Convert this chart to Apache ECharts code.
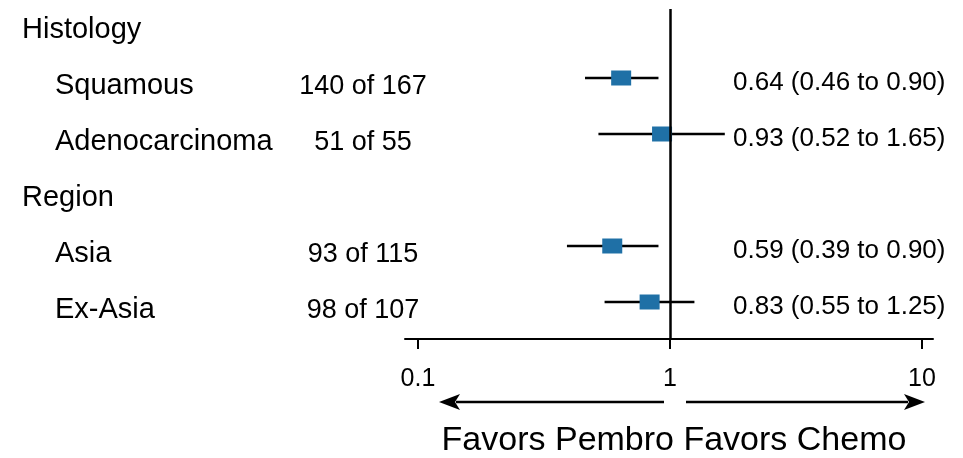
<!DOCTYPE html>
<html>
<head>
<meta charset="utf-8">
<script src="https://cdn.jsdelivr.net/npm/echarts@6/dist/echarts.min.js"></script>
<style>html,body{margin:0;padding:0;background:#fff}#c{width:963px;height:458px}</style>
</head>
<body>
<div id="c"></div>
<script>
// ---- data ----
const categories = ['Histology', 'Squamous', 'Adenocarcinoma', 'Region', 'Asia', 'Ex-Asia'];
const isHeader = [true, false, false, true, false, false];
const events = ['', '140 of 167', '51 of 55', '', '93 of 115', '98 of 107'];
const hr = [null, 0.64, 0.93, null, 0.59, 0.83];
const lower = [null, 0.46, 0.52, null, 0.39, 0.55];
const upper = [null, 0.90, 1.65, null, 0.90, 1.25];
const tickValues = [0.1, 1, 10];
const favorLeft = 'Favors Pembro';
const favorRight = 'Favors Chemo';

// ---- chart ----
const F = '"Liberation Sans", Arial, Helvetica, sans-serif';
const chart = echarts.init(document.getElementById('c'), null, {renderer: 'canvas'});

function fmt(v) { return v.toFixed(2); }

function renderRow(params, api) {
  const i = params.dataIndex;
  const y = api.coord([1, i])[1];
  const children = [];
  children.push({
    type: 'text',
    style: {text: categories[i], x: isHeader[i] ? 22 : 55, y: y + 8,
      font: '29px ' + F, fill: '#000', textAlign: 'left', textVerticalAlign: 'middle'}
  });
  if (!isHeader[i]) {
    children.push({
      type: 'text',
      style: {text: events[i], x: 363, y: y + 9,
        font: '27px ' + F, fill: '#000', textAlign: 'center', textVerticalAlign: 'middle'}
    });
    children.push({
      type: 'text',
      style: {text: fmt(hr[i]) + ' (' + fmt(lower[i]) + ' to ' + fmt(upper[i]) + ')', x: 733, y: y + 4.5,
        font: '26px ' + F, fill: '#000', textAlign: 'left', textVerticalAlign: 'middle'}
    });
    const pl = api.coord([lower[i], i]);
    const ph = api.coord([upper[i], i]);
    const pm = api.coord([hr[i], i]);
    children.push({
      type: 'line',
      shape: {x1: pl[0], y1: pl[1], x2: ph[0], y2: ph[1]},
      style: {stroke: '#000', lineWidth: 2.5}
    });
    children.push({
      type: 'rect',
      shape: {x: pm[0] - 10, y: pm[1] - 7.5, width: 20, height: 15},
      style: {fill: '#1f70a6'}
    });
  }
  return {type: 'group', children: children};
}

const option = {
  animation: false,
  backgroundColor: '#fff',
  grid: [
    {left: 418, right: 41, top: 22, height: 280},
    {left: 418, right: 41, top: 9, height: 330},
    {left: 405, right: 30, top: 9, height: 330}
  ],
  xAxis: [
    {gridIndex: 0, type: 'log', logBase: 10, min: 0.1, max: 10, show: false},
    {gridIndex: 1, type: 'log', logBase: 10, min: 0.1, max: 10, interval: 1,
      axisLine: {show: false},
      axisTick: {show: true, length: 10, lineStyle: {color: '#000', width: 2}},
      axisLabel: {show: true, margin: 28, color: '#000', fontSize: 25, fontFamily: F,
        formatter: function (v) { return String(v); }},
      splitLine: {show: false}, minorTick: {show: false}},
    {gridIndex: 2, type: 'value', min: 0, max: 1,
      axisLine: {show: true, lineStyle: {color: '#000', width: 2}},
      axisTick: {show: false}, axisLabel: {show: false}, splitLine: {show: false}}
  ],
  yAxis: [
    {gridIndex: 0, type: 'category', data: categories, inverse: true, boundaryGap: false, show: false},
    {gridIndex: 1, type: 'value', min: 0, max: 1, show: false},
    {gridIndex: 2, type: 'value', min: 0, max: 1, show: false}
  ],
  graphic: [
    {type: 'group', silent: true, children: [
      {type: 'line', shape: {x1: 664, y1: 402, x2: 456, y2: 402}, style: {stroke: '#000', lineWidth: 2.5}},
      {type: 'polygon', shape: {points: [[439, 402], [460, 394], [455, 402], [460, 410]]}, style: {fill: '#000'}},
      {type: 'line', shape: {x1: 686, y1: 402, x2: 908, y2: 402}, style: {stroke: '#000', lineWidth: 2.5}},
      {type: 'polygon', shape: {points: [[925, 402], [904, 394], [909, 402], [904, 410]]}, style: {fill: '#000'}},
      {type: 'text', style: {text: favorLeft + ' ' + favorRight, x: 674, y: 441,
        font: '34px ' + F, fill: '#000', textAlign: 'center', textVerticalAlign: 'middle'}}
    ]}
  ],
  series: [
    {
      type: 'custom', xAxisIndex: 0, yAxisIndex: 0,
      renderItem: renderRow,
      data: categories.map(function (c, i) { return [hr[i] || 1, i]; }),
      silent: true
    },
    {
      type: 'line', xAxisIndex: 1, yAxisIndex: 1, data: [], silent: true,
      markLine: {
        silent: true, symbol: 'none', label: {show: false},
        lineStyle: {color: '#000', width: 2.5, type: 'solid'},
        data: [{xAxis: 1}]
      }
    }
  ]
};
chart.setOption(option);
</script>
</body>
</html>
